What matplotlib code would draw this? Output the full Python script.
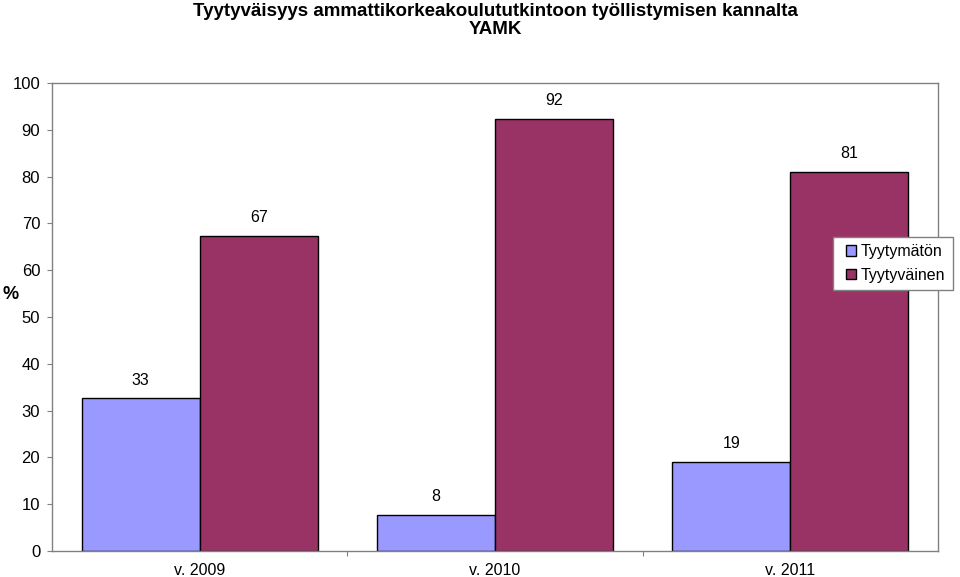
import matplotlib
matplotlib.use("Agg")
import matplotlib.pyplot as plt
from matplotlib.patches import Rectangle
from matplotlib.container import BarContainer
from matplotlib.legend_handler import HandlerPatch, update_from_first_child
import numpy as np

plt.rcParams['font.family'] = ['Liberation Sans', 'DejaVu Sans']

# Data
years = ['v. 2009', 'v. 2010', 'v. 2011']
tyytymaton = [32.6, 7.7, 19.0]
tyytyvainen = [67.4, 92.3, 81.0]
series_names = ['Tyytymätön', 'Tyytyväinen']

fig = plt.figure(figsize=(9.6, 5.77), dpi=100)
ax = fig.add_axes([0.0542, 0.045, 0.9229, 0.811])

x = np.arange(len(years))
w = 0.4
b1 = ax.bar(x - w / 2, tyytymaton, w, color='#9999FF', edgecolor='black', linewidth=1, label=series_names[0])
b2 = ax.bar(x + w / 2, tyytyvainen, w, color='#993366', edgecolor='black', linewidth=1, label=series_names[1])

for bars in (b1, b2):
    for r in bars:
        ax.text(r.get_x() + r.get_width() / 2, r.get_height() + 2.3, '%.0f' % r.get_height(),
                ha='center', va='bottom', fontsize=11.5)

ax.set_xlim(-0.5, 2.5)
ax.set_ylim(0, 100)
ax.set_yticks(range(0, 101, 10))
ax.set_xticks([0.5, 1.5])
ax.set_xticklabels([])
ax.tick_params(axis='y', labelsize=12, length=3.5, color='#808080', direction='out', pad=5)
ax.tick_params(axis='x', length=3.5, color='#808080', direction='out')
for xi, lab in zip(x, years):
    ax.text(xi, -2.6, lab, ha='center', va='top', fontsize=11.5)
for s in ax.spines.values():
    s.set_color('#808080')
    s.set_linewidth(1)

fig.text(0.003, 0.49, '%', fontsize=13, fontweight='bold', ha='left', va='center')
fig.text(495 / 960, 0.995, 'Tyytyväisyys ammattikorkeakoulututkintoon työllistymisen kannalta\nYAMK',
         ha='center', va='top', fontsize=13.5, fontweight='bold', linespacing=1.1)


# pieni neliö legendan kahvan oikeaan reunaan
def square(legend, orig_handle, xdescent, ydescent, width, height, fontsize):
    return Rectangle((width - height - xdescent, -ydescent), height, height)


leg = ax.legend(loc='center left', bbox_to_anchor=(833 / 960, 1 - 263.5 / 577),
                bbox_transform=fig.transFigure, fontsize=11.5, frameon=True, framealpha=1,
                fancybox=False, handlelength=1.0, handleheight=0.6, handletextpad=0.3,
                borderpad=0.45, labelspacing=0.55, borderaxespad=0,
                handler_map={BarContainer: HandlerPatch(patch_func=square,
                                                        update_func=update_from_first_child)})
leg.get_frame().set_edgecolor('#808080')
leg.get_frame().set_linewidth(1)

fig.savefig('out.png', dpi=100)
